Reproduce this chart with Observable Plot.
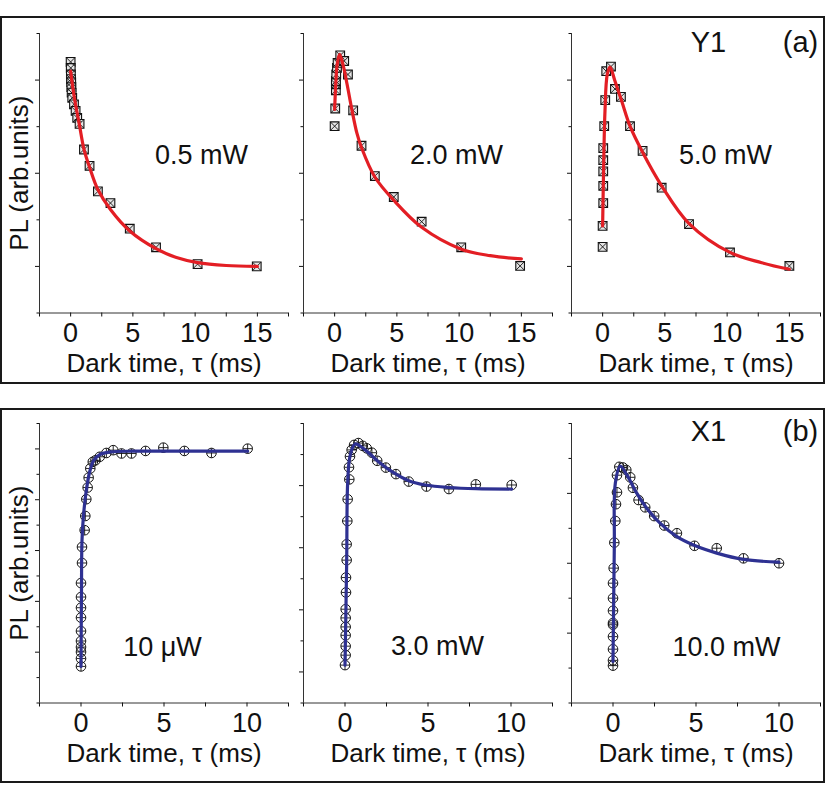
<!DOCTYPE html>
<html><head><meta charset="utf-8">
<script src="https://cdn.jsdelivr.net/npm/d3@7"></script>
<script src="https://cdn.jsdelivr.net/npm/@observablehq/plot@0.6"></script>
<style>
html,body{margin:0;padding:0;background:#fff;}
#fig{position:relative;width:830px;height:802px;overflow:hidden;font-family:"Liberation Sans",Arial,sans-serif;}
.frame{position:absolute;border:2px solid #1a1a1a;box-sizing:border-box;}
</style></head><body><div id="fig"></div>
<script>
// ---------- DATA ----------
// Panel (a) Y1 : [dark time (ms), PL (arb.units)]
const y1_05mW_points = [[0.00,5.39],[0.01,5.26],[0.02,5.12],[0.03,5.02],[0.05,4.95],[0.06,4.85],[0.08,4.73],[0.13,4.62],[0.27,4.48],[0.40,4.34],[0.53,4.19],[0.72,4.06],[1.07,3.51],[1.52,3.16],[2.19,2.61],[3.20,2.36],[4.75,1.81],[6.86,1.41],[10.2,1.05],[14.95,1.00]];
const y1_05mW_fit = [[0,5.19],[0.3,4.62],[0.7,4.05],[1.07,3.52],[1.52,3.13],[2.19,2.65],[3.2,2.22],[4.75,1.76],[6.86,1.38],[8.5,1.19],[10.2,1.08],[12.5,1.02],[15,1.0]];
const y1_20mW_points = [[0.00,4.01],[0.05,4.39],[0.10,4.78],[0.10,4.91],[0.10,4.98],[0.13,5.12],[0.19,5.26],[0.24,5.37],[0.45,5.53],[0.77,5.41],[1.07,5.12],[1.49,4.35],[2.16,3.59],[3.23,2.94],[4.75,2.49],[6.99,1.96],[10.17,1.41],[14.9,1.01]];
const y1_20mW_fit = [[0,4.37],[0.1,4.95],[0.2,5.32],[0.4,5.55],[0.7,5.3],[1.0,4.91],[1.39,4.36],[1.79,3.86],[2.16,3.55],[3.23,2.92],[4.75,2.42],[6.99,1.84],[10.17,1.37],[12.5,1.23],[15,1.16]];
const y1_50mW_points = [[0.00,1.42],[0.00,1.87],[0.05,2.36],[0.05,2.73],[0.05,3.04],[0.05,3.28],[0.05,3.54],[0.13,4.01],[0.21,4.57],[0.29,5.19],[0.67,5.29],[0.99,4.81],[1.47,4.64],[2.2,4.01],[3.21,3.48],[4.74,2.69],[6.94,1.91],[10.23,1.30],[15.0,1.01]];
const y1_50mW_fit = [[0,1.87],[0.08,3.12],[0.19,4.34],[0.37,5.12],[0.59,5.28],[0.99,4.98],[1.53,4.55],[2.2,4.01],[3.21,3.45],[4.74,2.73],[6.94,1.92],[10.23,1.3],[12.78,1.08],[15,0.94]];
// Panel (b) X1
const x1_10uW_points = [[0,1.44],[0,1.75],[0,2.01],[0,2.20],[0,2.44],[0,2.83],[0,3.36],[0,3.75],[0,4.17],[0,4.72],[0.06,5.51],[0.06,6.14],[0.22,6.80],[0.26,7.36],[0.32,8.02],[0.40,8.48],[0.46,8.87],[0.56,9.23],[0.71,9.49],[0.87,9.55],[1.13,9.69],[1.53,9.84],[1.94,9.95],[2.44,9.82],[3.04,9.82],[3.89,9.92],[4.96,10.05],[6.23,9.92],[7.86,9.84],[10.04,10.01]];
const x1_10uW_fit = [[0,1.44],[0.03,4.5],[0.06,6.4],[0.16,7.45],[0.32,8.37],[0.52,9.09],[0.77,9.55],[1.17,9.79],[1.77,9.88],[3.19,9.91],[6,9.91],[10.04,9.91]];
const x1_30mW_points = [[0,1.22],[0.04,1.54],[0.04,1.83],[0.04,2.18],[0.04,2.45],[0.04,2.74],[0.04,3.02],[0.06,3.56],[0.06,4.04],[0.1,4.60],[0.1,5.11],[0.14,5.86],[0.16,6.56],[0.26,7.20],[0.24,7.59],[0.3,7.94],[0.4,8.15],[0.55,8.31],[0.81,8.37],[1.07,8.28],[1.31,8.20],[1.62,8.06],[1.94,7.80],[2.46,7.58],[3.07,7.37],[3.84,7.13],[4.91,6.97],[6.26,6.89],[7.88,7.04],[10.04,7.02]];
const x1_30mW_fit = [[0,1.22],[0.1,4.5],[0.16,7.08],[0.3,7.94],[0.61,8.34],[1.21,8.15],[2.02,7.77],[2.83,7.45],[3.84,7.16],[4.85,7.02],[6.26,6.94],[7.88,6.9],[10.04,6.89]];
const x1_100mW_points = [[0,1.07],[0,1.22],[0,1.54],[0,1.90],[0,2.24],[0,2.29],[0,2.64],[0,3.00],[0,3.43],[0.04,3.86],[0.08,4.59],[0.14,5.21],[0.18,5.69],[0.24,6.03],[0.24,6.52],[0.38,6.76],[0.6,6.74],[0.8,6.67],[1.04,6.46],[1.2,6.16],[1.54,5.81],[1.94,5.60],[2.48,5.35],[3.09,5.08],[3.85,4.86],[4.91,4.50],[6.25,4.43],[7.86,4.14],[10.0,4.00]];
const x1_100mW_fit = [[0,1.19],[0.08,4.5],[0.14,6.29],[0.44,6.78],[0.84,6.52],[1.44,6.0],[2.04,5.57],[2.85,5.14],[3.85,4.76],[4.85,4.52],[6.25,4.29],[7.86,4.11],[10.0,4.03]];

// Labels and ticks
const powersA = ["0.5 mW", "2.0 mW", "5.0 mW"];
const powersB = ["10 \u03bcW", "3.0 mW", "10.0 mW"];
const xTitle = "Dark time, \u03c4 (ms)";
const yTitle = "PL (arb.units)";
const tagsA = ["Y1", "(a)"];
const tagsB = ["X1", "(b)"];
const xDomainA = [-2.5, 17.5], xLabelsA = [0, 5, 10, 15], xMinorA = [-2.5, 2.5, 7.5, 12.5, 17.5];
const xDomainB = [-2.5, 12.5], xLabelsB = [0, 5, 10], xMinorB = [-2.5, 2.5, 7.5, 12.5];
const yDomainA = [0, 6], yMajorA = [1, 3, 5], yMinorA = [0, 2, 4, 6];
const yDomainB1 = [0, 11], yMajorB1 = [2, 4, 6, 8, 10], yMinorB1 = [0, 1, 3, 5, 7, 9, 11];
const yDomainB2 = [0, 9], yMajorB2 = [1, 3, 5, 7], yMinorB2 = [0, 2, 4, 6, 8, 9];
const yDomainB3 = [0, 8], yMajorB3 = [2, 4, 6], yMinorB3 = [0, 1, 3, 5, 7, 8];

// ---------- DRAW ----------
const FONT = '"Liberation Sans", Arial, sans-serif';
const fig = document.getElementById("fig");
const mL = 39, mR = 10, mT = 32, mB = 62, W = 249, H = 279.5;
const tx = d => d[0], ty = d => d[1];

function markers(points, kind) {
  if (kind === "square") return [
    Plot.dot(points, {x: tx, y: ty, symbol: "square", r: 4.9, stroke: "#111", strokeWidth: 1.1, fill: "#e4e4e4"}),
    Plot.dot(points, {x: tx, y: ty, symbol: "times", r: 3.9, stroke: "#111", strokeWidth: 0.9})
  ];
  return [
    Plot.dot(points, {x: tx, y: ty, symbol: "circle", r: 4.8, stroke: "#111", strokeWidth: 1, fill: "none"}),
    Plot.dot(points, {x: tx, y: ty, symbol: "plus", r: 3.1, stroke: "#111", strokeWidth: 0.9})
  ];
}

function panel(c) {
  const marks = [
    Plot.ruleY([c.yDomain[0]], {stroke: "#333", strokeWidth: 1}),
    Plot.ruleX([c.xDomain[0]], {stroke: "#333", strokeWidth: 1}),
    Plot.axisX({ticks: c.xLabels, tickSize: 4, tickPadding: 6, fontSize: 27, label: null}),
    Plot.axisX({ticks: c.xMinor, tickSize: 4, tickFormat: () => "", label: null}),
    Plot.axisY({ticks: c.yMajor, tickSize: 4, tickFormat: () => "", label: null}),
    Plot.axisY({ticks: c.yMinor, tickSize: 2.5, tickFormat: () => "", label: null}),
    ...markers(c.points, c.marker),
    Plot.line(c.fit, {x: tx, y: ty, stroke: c.color, strokeWidth: 3.2, curve: "catmull-rom"}),
    Plot.text([xTitle], {frameAnchor: "bottom", dy: 58.7, lineAnchor: "bottom", fontSize: 26}),
    Plot.text([c.power], {frameAnchor: "top-left", dx: c.pdx, dy: c.pdy, textAnchor: "middle", lineAnchor: "middle", fontSize: 27})
  ];
  if (c.yLabel) marks.push(Plot.text([yTitle], {frameAnchor: "left", dx: -20, rotate: -90, lineAnchor: "middle", textAnchor: "middle", fontSize: 26}));
  if (c.tags) {
    marks.push(Plot.text([c.tags[0]], {frameAnchor: "top-left", dx: 137, dy: c.tagDy, textAnchor: "middle", lineAnchor: "middle", fontSize: 29}));
    marks.push(Plot.text([c.tags[1]], {frameAnchor: "top-left", dx: 229, dy: c.tagDy, textAnchor: "middle", lineAnchor: "middle", fontSize: 29}));
  }
  const svg = Plot.plot({
    width: mL + W + mR, height: mT + H + mB,
    marginLeft: mL, marginRight: mR, marginTop: mT, marginBottom: mB,
    x: {domain: c.xDomain}, y: {domain: c.yDomain},
    style: {background: "transparent", overflow: "visible", fontFamily: FONT, color: "#111"},
    marks
  });
  svg.style.position = "absolute";
  svg.style.left = (c.x0 - mL) + "px";
  svg.style.top = (c.y0 - mT) + "px";
  svg.style.maxWidth = "none";
  fig.appendChild(svg);
}

function frame(l, t, w, h) {
  const d = document.createElement("div");
  d.className = "frame";
  Object.assign(d.style, {left: l + "px", top: t + "px", width: w + "px", height: h + "px"});
  fig.appendChild(d);
}
frame(0, 15.5, 825, 368.5);
frame(0, 407.5, 825, 375);

const colX = [39.3, 303.3, 571];
const rowY = [32.7, 423.3];
const red = "#e31e24", blue = "#2e3192";

panel({x0: colX[0], y0: rowY[0], xDomain: xDomainA, xLabels: xLabelsA, xMinor: xMinorA, yDomain: yDomainA, yMajor: yMajorA, yMinor: yMinorA,
  points: y1_05mW_points, fit: y1_05mW_fit, marker: "square", color: red, power: powersA[0], pdx: 162, pdy: 122, yLabel: true});
panel({x0: colX[1], y0: rowY[0], xDomain: xDomainA, xLabels: xLabelsA, xMinor: xMinorA, yDomain: yDomainA, yMajor: yMajorA, yMinor: yMinorA,
  points: y1_20mW_points, fit: y1_20mW_fit, marker: "square", color: red, power: powersA[1], pdx: 153, pdy: 122});
panel({x0: colX[2], y0: rowY[0], xDomain: xDomainA, xLabels: xLabelsA, xMinor: xMinorA, yDomain: yDomainA, yMajor: yMajorA, yMinor: yMinorA,
  points: y1_50mW_points, fit: y1_50mW_fit, marker: "square", color: red, power: powersA[2], pdx: 154, pdy: 122, tags: tagsA, tagDy: 9.3});

panel({x0: colX[0], y0: rowY[1], xDomain: xDomainB, xLabels: xLabelsB, xMinor: xMinorB, yDomain: yDomainB1, yMajor: yMajorB1, yMinor: yMinorB1,
  points: x1_10uW_points, fit: x1_10uW_fit, marker: "circle", color: blue, power: powersB[0], pdx: 123, pdy: 224, yLabel: true});
panel({x0: colX[1], y0: rowY[1], xDomain: xDomainB, xLabels: xLabelsB, xMinor: xMinorB, yDomain: yDomainB2, yMajor: yMajorB2, yMinor: yMinorB2,
  points: x1_30mW_points, fit: x1_30mW_fit, marker: "circle", color: blue, power: powersB[1], pdx: 134, pdy: 223});
panel({x0: colX[2], y0: rowY[1], xDomain: xDomainB, xLabels: xLabelsB, xMinor: xMinorB, yDomain: yDomainB3, yMajor: yMajorB3, yMinor: yMinorB3,
  points: x1_100mW_points, fit: x1_100mW_fit, marker: "circle", color: blue, power: powersB[2], pdx: 155, pdy: 224, tags: tagsB, tagDy: 8.7});
</script></body></html>
